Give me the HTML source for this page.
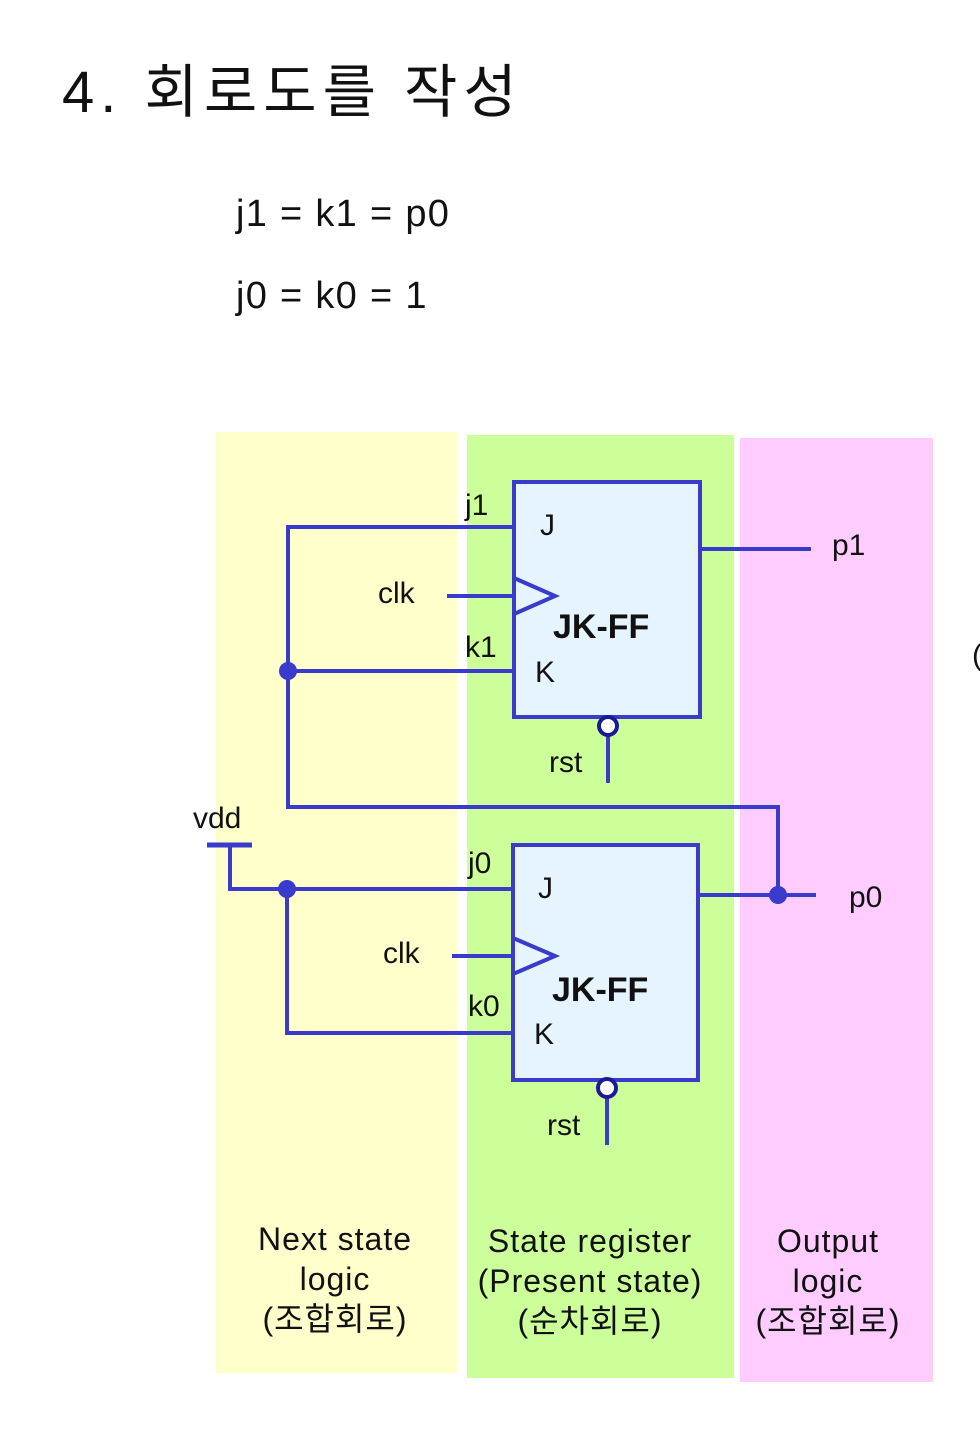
<!DOCTYPE html>
<html><head><meta charset="utf-8"><style>
body{margin:0;background:#fff;width:980px;height:1440px;overflow:hidden}
svg{display:block}
.k{font-family:"Liberation Sans","Noto Sans CJK KR",sans-serif}
</style></head><body>
<svg width="980" height="1440" xmlns="http://www.w3.org/2000/svg">
<text x="62" y="112" class="k" font-size="58" letter-spacing="6" fill="#111">4. 회로도를 작성</text>
<text x="236" y="226" class="k" font-size="38" letter-spacing="1.3" fill="#111">j1 = k1 = p0</text>
<text x="236" y="308" class="k" font-size="38" letter-spacing="1.3" fill="#111">j0 = k0 = 1</text>
<rect x="216" y="432" width="241" height="941" fill="#ffffcc"/>
<rect x="467" y="435" width="267" height="943" fill="#ccff99"/>
<rect x="740" y="438" width="193" height="944" fill="#ffccff"/>
<g fill="#e6f4ff" stroke="#3a3acc" stroke-width="4">
<rect x="514" y="482" width="186" height="235"/>
<rect x="513" y="845" width="185" height="235"/>
</g>
<g fill="none" stroke="#3a3acc" stroke-width="4">
<polyline points="512,527 288,527 288,807 778,807 778,895"/>
<line x1="288" y1="671" x2="512" y2="671"/>
<line x1="700" y1="549" x2="811" y2="549"/>
<line x1="447" y1="596" x2="514" y2="596"/>
<polyline points="514,578 555,596 514,614"/>
<line x1="608" y1="735" x2="608" y2="783"/>
<line x1="207" y1="845" x2="252" y2="845" stroke-width="5"/>
<polyline points="230,845 230,889 512,889"/>
<polyline points="287,889 287,1033 512,1033"/>
<line x1="698" y1="895" x2="816" y2="895"/>
<line x1="452" y1="956" x2="513" y2="956"/>
<polyline points="513,938 555,956 513,974"/>
<line x1="607" y1="1097" x2="607" y2="1145"/>
</g>
<g fill="#fff" stroke="#1a1a99" stroke-width="4">
<circle cx="608" cy="726" r="9"/>
<circle cx="607" cy="1088" r="9"/>
</g>
<g fill="#3a3acc">
<circle cx="288" cy="671" r="9"/>
<circle cx="287" cy="889" r="9"/>
<circle cx="778" cy="895" r="9"/>
</g>
<g class="k" font-size="30" fill="#111">
<text x="465" y="515">j1</text>
<text x="540" y="535">J</text>
<text x="832" y="555">p1</text>
<text x="378" y="603">clk</text>
<text x="465" y="657">k1</text>
<text x="535" y="682">K</text>
<text x="549" y="772">rst</text>
<text x="193" y="828">vdd</text>
<text x="468" y="873">j0</text>
<text x="538" y="898">J</text>
<text x="849" y="907">p0</text>
<text x="383" y="963">clk</text>
<text x="468" y="1016">k0</text>
<text x="534" y="1044">K</text>
<text x="547" y="1135">rst</text>
<text x="972" y="665">(</text>
</g>
<g class="k" font-size="34" font-weight="bold" fill="#111">
<text x="553" y="638">JK-FF</text>
<text x="552" y="1001">JK-FF</text>
</g>
<g class="k" font-size="32" fill="#111" text-anchor="middle" letter-spacing="1">
<text x="335" y="1250">Next state</text>
<text x="335" y="1290">logic</text>
<text x="335" y="1330">(조합회로)</text>
<text x="590" y="1252">State register</text>
<text x="590" y="1292">(Present state)</text>
<text x="590" y="1332">(순차회로)</text>
<text x="828" y="1252">Output</text>
<text x="828" y="1292">logic</text>
<text x="828" y="1332">(조합회로)</text>
</g>
</svg>
</body></html>
